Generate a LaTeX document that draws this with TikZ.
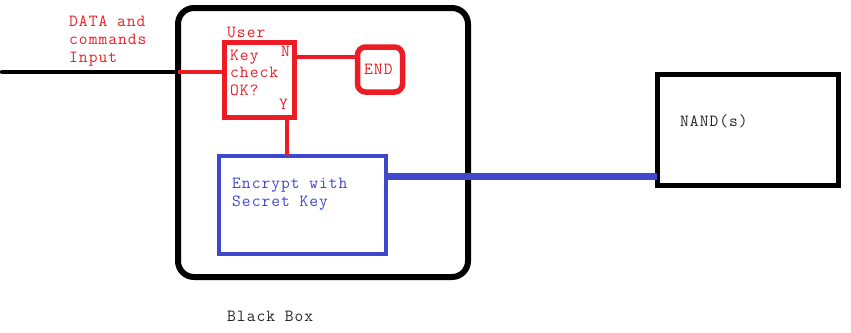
\documentclass[tikz,border=0pt]{standalone}
\usepackage{fontspec}
\setmonofont{Latin Modern Mono}[LetterSpace=6]
\definecolor{pred}{RGB}{237,28,36}
\definecolor{pblue}{RGB}{63,72,204}
\begin{document}
\begin{tikzpicture}[x=1pt,y=-1pt,
  txt/.style={anchor=base west,inner sep=0pt,font=\ttfamily\fontsize{17}{18}\selectfont},
  redtxt/.style={txt,text=pred},
  bluetxt/.style={txt,text=pblue},
  blktxt/.style={txt,text=black!85},
  boxnode/.style={rectangle,inner sep=0pt,outer sep=0pt}]
\useasboundingbox (0,0) rectangle (851,332);
% boxes
\node[boxnode,draw=black,line width=6pt,rounded corners=16pt,minimum width=290pt,minimum height=269pt] (bbox) at (323,142.5) {};
\node[boxnode,draw=pred,line width=5pt,minimum width=70pt,minimum height=75pt] (keychk) at (259,79.5) {};
\node[boxnode,draw=pred,line width=5.5pt,rounded corners=8pt,minimum width=45pt,minimum height=45pt] (endn) at (380,69.5) {};
\node[boxnode,draw=pblue,line width=4pt,minimum width=167pt,minimum height=98pt] (enc) at (302.5,205) {};
\node[boxnode,draw=black,line width=5pt,minimum width=181pt,minimum height=111pt] (nand) at (747.5,129.5) {};
% helper coordinates
\coordinate (inp) at (2,72);
\coordinate (ny) at (0,57);
\coordinate (yx) at (287,0);
\coordinate (by) at (0,176);
% connectors
\draw[black,line width=4.5pt,line cap=round] (inp) -- (inp -| bbox.west);
\draw[pred,line width=4pt] (inp -| bbox.west) -- (inp -| keychk.west);
\draw[pred,line width=4pt] (ny -| keychk.east) -- (ny -| endn.west);
\draw[pred,line width=4pt] (keychk.south -| yx) -- (enc.north -| yx);
\draw[pblue,line width=7pt] (by -| enc.east) -- (by -| nand.west);
% texts
\node[redtxt] (t1) at (69,26) {DATA and};
\node[redtxt] (t2) at (69,44) {commands};
\node[redtxt] (t3) at (69,62) {Input};
\node[redtxt] (tu) at (227,37) {User};
\node[redtxt] (tk1) at (230,60) {Key};
\node[redtxt] (tk2) at (230,77.5) {check};
\node[redtxt] (tk3) at (230,95) {OK?};
\node[redtxt] (tn) at (281,56) {N};
\node[redtxt] (ty) at (279,109) {Y};
\node[redtxt] (te) at (364,74) {END};
\node[bluetxt] (tenc1) at (232,188) {Encrypt with};
\node[bluetxt] (tenc2) at (232,206) {Secret Key};
\node[blktxt] (tnand) at (680,126) {NAND(s)};
\node[blktxt] (tbb) at (227,321) {Black Box};
\end{tikzpicture}
\end{document}
